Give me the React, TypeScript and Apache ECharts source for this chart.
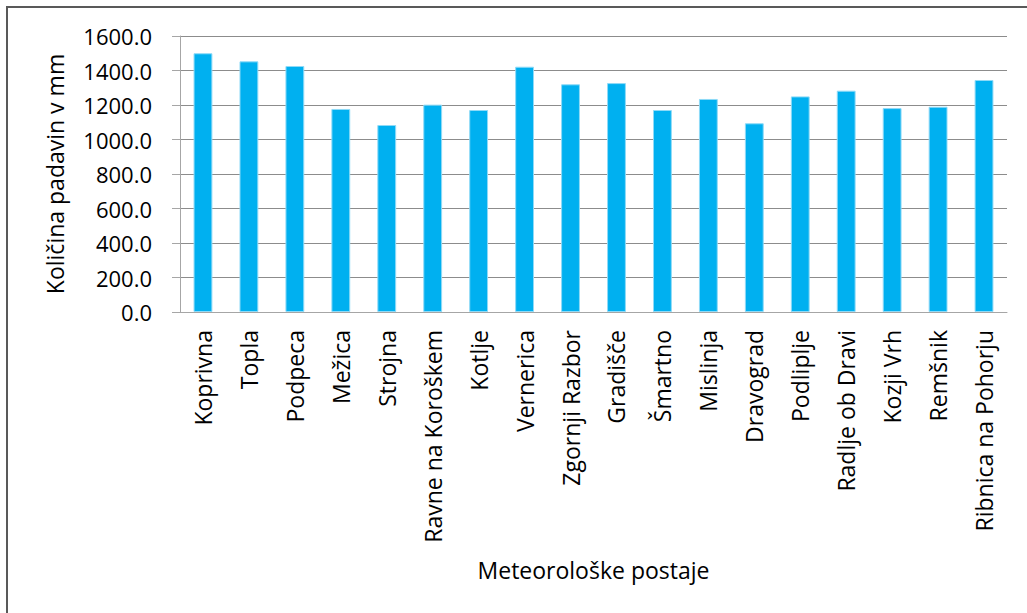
import React, { useEffect, useRef } from "react";
import * as echarts from "echarts";

// Meteorological stations and their annual precipitation (mm)
const stations: string[] = [
  "Koprivna",
  "Topla",
  "Podpeca",
  "Mežica",
  "Strojna",
  "Ravne na Koroškem",
  "Kotlje",
  "Vernerica",
  "Zgornji Razbor",
  "Gradišče",
  "Šmartno",
  "Mislinja",
  "Dravograd",
  "Podliplje",
  "Radlje ob Dravi",
  "Kozji Vrh",
  "Remšnik",
  "Ribnica na Pohorju",
];

const precipitation: number[] = [
  1500, 1453, 1426, 1177, 1084, 1202, 1171, 1422, 1320, 1327, 1171, 1235, 1094,
  1250, 1283, 1182, 1190, 1345,
];

const yTicks: number[] = [0, 200, 400, 600, 800, 1000, 1200, 1400, 1600];

const FONT = "'Open Sans', 'DejaVu Sans', sans-serif";

export default function App() {
  const ref = useRef<HTMLDivElement>(null);

  useEffect(() => {
    if (!ref.current) return;
    const chart = echarts.init(ref.current, undefined, { renderer: "svg" });
    chart.setOption({
      animation: false,
      backgroundColor: "#ffffff",
      textStyle: { fontFamily: FONT },
      graphic: [
        {
          type: "rect",
          shape: { x: 7, y: 7, width: 1040, height: 640 },
          style: { fill: "none", stroke: "#595959", lineWidth: 2 },
          silent: true,
        },
      ],
      grid: { left: 180, right: 20, top: 36, bottom: 301 },
      xAxis: {
        type: "category",
        data: stations,
        name: "Meteorološke postaje",
        nameLocation: "middle",
        nameGap: 246,
        nameTextStyle: { fontSize: 23, color: "#000", fontFamily: FONT },
        axisLine: { lineStyle: { color: "#a6a6a6", width: 1 } },
        axisTick: { show: false },
        axisLabel: {
          rotate: 90,
          interval: 0,
          margin: 18,
          fontSize: 23,
          color: "#000",
          fontFamily: FONT,
        },
      },
      yAxis: {
        type: "value",
        min: yTicks[0],
        max: yTicks[yTicks.length - 1],
        interval: 200,
        name: "Količina padavin v mm",
        nameLocation: "middle",
        nameGap: 114,
        nameTextStyle: { fontSize: 23, color: "#000", fontFamily: FONT },
        axisLine: { show: true, lineStyle: { color: "#a6a6a6", width: 1 } },
        axisTick: { show: true, length: 8, lineStyle: { color: "#a6a6a6" } },
        axisLabel: {
          margin: 28,
          fontSize: 22,
          color: "#000",
          fontFamily: FONT,
          formatter: (v: number) => v.toFixed(1),
        },
        splitLine: { lineStyle: { color: "#8c8c8c", width: 1.2 } },
      },
      series: [
        {
          type: "bar",
          data: precipitation,
          barWidth: "41%",
          itemStyle: {
            color: "#00b0f0",
            borderColor: "#8fdaf7",
            borderWidth: 1,
          },
        },
      ],
    });
    return () => chart.dispose();
  }, []);

  return (
    <div
      ref={ref}
      style={{ position: "fixed", left: 0, top: 0, width: 1027, height: 613 }}
    />
  );
}
